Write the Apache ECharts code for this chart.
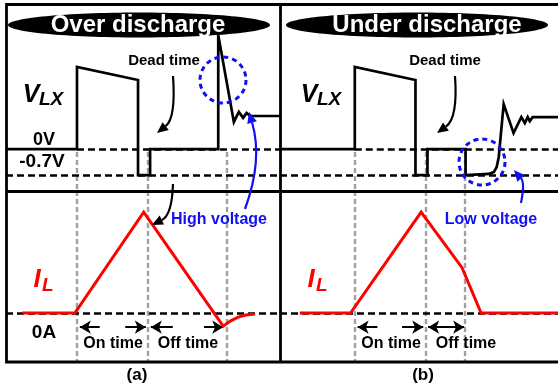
<!DOCTYPE html>
<html>
<head>
<meta charset="utf-8">
<script src="https://cdn.jsdelivr.net/npm/echarts@6/dist/echarts.min.js"></script>
<style>
  html, body { margin: 0; padding: 0; background: #fff; }
  #chart { width: 558px; height: 390px; }
</style>
</head>
<body>
<div id="chart"></div>
<script>
// Time is in units of one on-time interval, V_LX in volts, I_L normalised to its peak.

// (a) over discharge
const overVlxT = [0, 1.0, 1.0, 1.86, 1.86, 2.03, 2.03, 2.99, 2.99, 3.21, 3.28, 3.34, 3.39, 3.44, 3.86];
const overVlxV = [0, 0, 2.21, 1.86, -0.7, -0.7, 0, 0, 3.07, 0.73, 1.0, 0.84, 0.97, 0.89, 0.89];
const overIlT  = [0.23, 0.97, 1.94, 3.06, 3.16, 3.27, 3.38, 3.51];
const overIlA  = [0, 0, 1.0, -0.13, -0.08, -0.04, -0.02, -0.01];
const overGuideT = [1.0, 2.0, 3.11];
const overLevelStartT = [1.0, 0];

// (b) under discharge
const underVlxT = [0, 1.06, 1.06, 1.92, 1.92, 2.09, 2.09, 2.63, 2.63, 2.96, 3.03, 3.07, 3.10, 3.17, 3.31, 3.42, 3.47, 3.51, 3.54, 3.58, 3.94];
const underVlxV = [0, 0, 2.21, 1.86, -0.7, -0.7, 0, 0, -0.7, -0.67, -0.62, -0.49, -0.22, 1.21, 0.43, 0.86, 0.70, 0.86, 0.75, 0.86, 0.86];
const underIlT  = [0.28, 1.0, 2.0, 2.58, 2.85, 3.94];
const underIlA  = [0, 0, 1.0, 0.45, 0, 0];
const underGuideT = [1.06, 2.07, 2.62];
const underLevelStartT = [1.06, 0];

// reference levels
const vlxLevels = [0, -0.7];      // 0 V and body-diode drop
const ilLevels = [0];             // 0 A
const arrowLevel = -0.14;         // height of the on/off time arrows (I_L units)

// interval arrows: [tail, tip]
const overArrows  = [[1.32, 1.04], [1.68, 1.97], [2.35, 2.04], [2.79, 3.06]];
const underArrows = [[1.38, 1.10], [1.73, 2.03]];
const underOffSpan = [2.10, 2.61];

// text
const titles = ['Over discharge', 'Under discharge'];
const panelTags = ['(a)', '(b)'];
const levelLabels = ['0V', '-0.7V', '0A'];
const intervalLabels = ['On time', 'Off time'];
const deadTimeLabel = 'Dead time';
const calloutLabels = ['High voltage', 'Low voltage'];

// axis extents
const T_SPAN_A = 3.86, T_SPAN_B = 3.94;
const V_MIN = -1.13, V_MAX = 3.88;
const I_MIN = -0.485, I_MAX = 1.21;

const FONT = '"Liberation Sans", Arial, Helvetica, sans-serif';
const BLACK = '#000', RED = '#ff0000', BLUE = '#1010f0', GRAY = '#a0a0a0';

const zip = (xs, ys) => xs.map((x, i) => [x, ys[i]]);

const chart = echarts.init(document.getElementById('chart'), null, { renderer: 'canvas' });

const grids = [
  { left: 6,   top: 5,   width: 274, height: 186 },   // V_LX (a)
  { left: 6,   top: 191, width: 274, height: 171 },   // I_L (a)
  { left: 280, top: 5,   width: 280, height: 186 },   // V_LX (b)
  { left: 280, top: 191, width: 280, height: 171 }    // I_L (b)
];
const spans = [T_SPAN_A, T_SPAN_A, T_SPAN_B, T_SPAN_B];
const xAxes = spans.map((s, i) => ({ type: 'value', gridIndex: i, min: 0, max: s, show: false }));
const yAxes = [0, 1, 2, 3].map(i => ({
  type: 'value', gridIndex: i, show: false,
  min: i % 2 === 0 ? V_MIN : I_MIN,
  max: i % 2 === 0 ? V_MAX : I_MAX
}));

const grayStyle = { color: GRAY, width: 2.4, type: [5, 3] };
const blackDash = { color: BLACK, width: 2.5, type: [7, 4] };

function guideLines(times, yFrom, yTo) {
  return times.map(t => [{ coord: [t, yFrom], lineStyle: grayStyle }, { coord: [t, yTo] }]);
}
function levelLines(levels, starts, end) {
  return levels.map((v, i) => [{ coord: [starts[i], v], lineStyle: blackDash }, { coord: [end, v] }]);
}
function helper(idx, lines) {
  return {
    type: 'line', xAxisIndex: idx, yAxisIndex: idx, data: [], z: 1, silent: true, animation: false,
    markLine: { silent: true, animation: false, symbol: 'none', label: { show: false }, data: lines }
  };
}
function wave(idx, xs, ys, color, width) {
  return {
    type: 'line', xAxisIndex: idx, yAxisIndex: idx, data: zip(xs, ys),
    showSymbol: false, symbol: 'none', silent: true, animation: false, z: 5,
    lineStyle: { color, width, join: 'miter' }
  };
}
function arrowSeries(idx, pairs, level, both) {
  return {
    type: 'line', xAxisIndex: idx, yAxisIndex: idx, data: [], z: 6, silent: true, animation: false,
    markLine: {
      silent: true, animation: false, label: { show: false },
      symbol: both ? ['arrow', 'arrow'] : ['none', 'arrow'], symbolSize: [10, 11],
      lineStyle: { color: BLACK, width: 2, type: 'solid' },
      data: pairs.map(p => [{ coord: [p[0], level] }, { coord: [p[1], level] }])
    }
  };
}

const series = [
  // guides and reference levels
  helper(0, guideLines(overGuideT, -0.08, V_MIN).concat(levelLines(vlxLevels, overLevelStartT, T_SPAN_A))),
  helper(1, guideLines(overGuideT, I_MAX, I_MIN).concat(levelLines(ilLevels, [0], T_SPAN_A))),
  helper(2, guideLines(underGuideT, -0.08, V_MIN).concat(levelLines(vlxLevels, underLevelStartT, T_SPAN_B))),
  helper(3, guideLines(underGuideT, I_MAX, I_MIN).concat(levelLines(ilLevels, [0], T_SPAN_B))),
  // waveforms
  wave(0, overVlxT, overVlxV, BLACK, 2.7),
  wave(1, overIlT, overIlA, RED, 3),
  wave(2, underVlxT, underVlxV, BLACK, 2.7),
  wave(3, underIlT, underIlA, RED, 3),
  // interval arrows
  arrowSeries(1, overArrows, arrowLevel, false),
  arrowSeries(3, underArrows, arrowLevel, false),
  arrowSeries(3, [underOffSpan], arrowLevel, true)
];

// ---- annotations ----------------------------------------------------------
function txt(x, y, text, size, color, opts) {
  opts = opts || {};
  return {
    type: 'text', x, y, z: 30, silent: true,
    style: {
      text, fill: color || BLACK,
      font: (opts.italic ? 'italic ' : '') + 'bold ' + size + 'px ' + FONT,
      textAlign: opts.align || 'center', textVerticalAlign: 'middle',
      align: opts.align || 'center', verticalAlign: 'middle'
    }
  };
}
function curvedArrow(p0, c, p1, color) {
  const dx = p1[0] - c[0], dy = p1[1] - c[1];
  const len = Math.hypot(dx, dy), ux = dx / len, uy = dy / len;
  const hl = 11, hw = 10;
  const bx = p1[0] - ux * hl, by = p1[1] - uy * hl;
  return [
    { type: 'bezierCurve', z: 25, silent: true,
      shape: { x1: p0[0], y1: p0[1], cpx1: c[0], cpy1: c[1], x2: bx, y2: by },
      style: { stroke: color, lineWidth: 2.2, fill: null } },
    { type: 'polygon', z: 25, silent: true,
      shape: { points: [[p1[0], p1[1]], [bx - uy * hw / 2, by + ux * hw / 2], [bx + uy * hw / 2, by - ux * hw / 2]] },
      style: { fill: color } }
  ];
}
function dashedCircle(cx, cy, r) {
  return { type: 'circle', z: 24, silent: true, shape: { cx, cy, r },
    style: { fill: null, stroke: BLUE, lineWidth: 3, lineDash: [5, 4] } };
}

const graphic = [
  // frame and panel dividers
  { type: 'rect', z: 20, silent: true, shape: { x: 6.5, y: 4.5, width: 560, height: 357.5 },
    style: { fill: null, stroke: BLACK, lineWidth: 2.8 } },
  { type: 'line', z: 20, silent: true, shape: { x1: 280.5, y1: 4.5, x2: 280.5, y2: 362 },
    style: { stroke: BLACK, lineWidth: 2.8 } },
  { type: 'line', z: 20, silent: true, shape: { x1: 6.5, y1: 191.5, x2: 560, y2: 191.5 },
    style: { stroke: BLACK, lineWidth: 2.8 } },
  // title banners
  { type: 'ellipse', z: 28, silent: true, shape: { cx: 139, cy: 25, rx: 131, ry: 12.5 }, style: { fill: BLACK } },
  { type: 'ellipse', z: 28, silent: true, shape: { cx: 417, cy: 25, rx: 131, ry: 12.5 }, style: { fill: BLACK } },
  txt(138, 25, titles[0], 24, '#fff'),
  txt(427, 25, titles[1], 24, '#fff'),
  // signal names
  txt(31, 95, 'V', 25, BLACK, { italic: true }),
  txt(39, 100, 'LX', 19, BLACK, { italic: true, align: 'left' }),
  txt(309, 95, 'V', 25, BLACK, { italic: true }),
  txt(317, 100, 'LX', 19, BLACK, { italic: true, align: 'left' }),
  txt(37, 280, 'I', 26, RED, { italic: true }),
  txt(42, 286, 'L', 19, RED, { italic: true, align: 'left' }),
  txt(311, 280, 'I', 26, RED, { italic: true }),
  txt(316, 286, 'L', 19, RED, { italic: true, align: 'left' }),
  // level labels
  txt(44, 140, levelLabels[0], 18),
  txt(42, 162, levelLabels[1], 19),
  txt(44, 333, levelLabels[2], 19),
  // dead time
  txt(164, 61, deadTimeLabel, 15),
  txt(445, 61, deadTimeLabel, 15),
  // interval labels
  txt(113, 344, intervalLabels[0], 16),
  txt(188, 344, intervalLabels[1], 16),
  txt(391, 344, intervalLabels[0], 16),
  txt(466, 344, intervalLabels[1], 16),
  // callouts
  txt(219, 220, calloutLabels[0], 16, BLUE),
  txt(491, 220, calloutLabels[1], 16, BLUE),
  dashedCircle(223, 80, 23),
  dashedCircle(482, 162, 23),
  // panel tags
  txt(137, 375, panelTags[0], 17),
  txt(423, 375, panelTags[1], 17)
]
  .concat(curvedArrow([173, 76], [176, 118], [157, 133], BLACK))
  .concat(curvedArrow([173, 184], [172, 215], [152, 225], BLACK))
  .concat(curvedArrow([455, 76], [458, 118], [437, 133], BLACK))
  .concat(curvedArrow([245, 209], [263, 160], [249, 112], BLUE))
  .concat(curvedArrow([521, 203], [525, 183], [514, 170], BLUE));

chart.setOption({
  animation: false,
  backgroundColor: '#fff',
  grid: grids,
  xAxis: xAxes,
  yAxis: yAxes,
  series,
  graphic
});
</script>
</body>
</html>
